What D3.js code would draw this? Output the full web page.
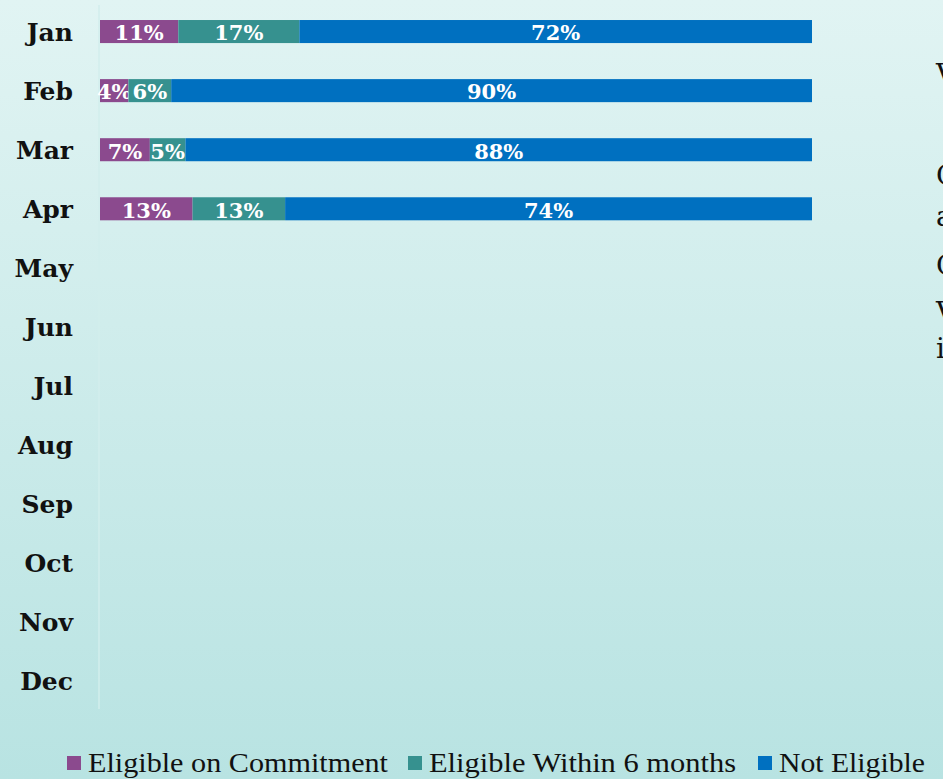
<!DOCTYPE html>
<html>
<head>
<meta charset="utf-8">
<script src="https://cdn.jsdelivr.net/npm/d3@7"></script>
<style>
  html, body { margin: 0; padding: 0; overflow: hidden; }
  svg { display: block; }
</style>
</head>
<body>
<div class="chart-area"></div>
<script>
const months = ["Jan", "Feb", "Mar", "Apr", "May", "Jun", "Jul", "Aug", "Sep", "Oct", "Nov", "Dec"];
const seriesNames = ["Eligible on Commitment", "Eligible Within 6 months", "Not Eligible"];
const eligibleOnCommitment = [11, 4, 7, 13];
const eligibleWithin6 = [17, 6, 5, 13];
const notEligible = [72, 90, 88, 74];
const colors = ["#8b4a8e", "#36918f", "#0070c0"];
// cut-off text from a box sitting off the right edge
const sideText = ["V", "C", "a", "C", "V", "i"];

const width = 943,
  height = 779,
  margin = { top: 2, right: 131, bottom: 68, left: 100 };

const svg = d3
  .select(".chart-area")
  .append("svg")
  .attr("width", width)
  .attr("height", height);

const grad = svg.append("defs").append("linearGradient")
  .attr("id", "bg").attr("x1", 0).attr("y1", 0).attr("x2", 0).attr("y2", 1);
grad.append("stop").attr("offset", "0%").attr("stop-color", "#e1f4f3");
grad.append("stop").attr("offset", "100%").attr("stop-color", "#b8e3e2");

svg.append("rect").attr("width", width).attr("height", height).attr("fill", "url(#bg)");

const x = d3.scaleLinear().domain([0, 100]).range([margin.left, width - margin.right]);
const y = d3.scaleBand().domain(months).range([margin.top, height - margin.bottom]).paddingInner(0.61).paddingOuter(0.305);

// rows -> stacked data
const rows = eligibleOnCommitment.map((v, i) => ({
  month: months[i],
  [seriesNames[0]]: v,
  [seriesNames[1]]: eligibleWithin6[i],
  [seriesNames[2]]: notEligible[i]
}));
const stacked = d3.stack().keys(seriesNames)(rows);

// axis line
svg.append("line")
  .attr("x1", x(0) - 1).attr("x2", x(0) - 1)
  .attr("y1", 5).attr("y2", 709)
  .attr("stroke", "#d2eeed").attr("stroke-width", 1.5);

const layer = svg.append("g")
  .selectAll("g")
  .data(stacked)
  .enter()
  .append("g")
  .attr("fill", (d, i) => colors[i]);

layer.selectAll("rect")
  .data((d) => d)
  .enter()
  .append("rect")
  .attr("x", (d) => x(d[0]))
  .attr("y", (d) => y(d.data.month))
  .attr("width", (d) => x(d[1]) - x(d[0]))
  .attr("height", y.bandwidth());

layer.selectAll("text")
  .data((d) => d.map((p) => ({ p: p, key: d.key })))
  .enter()
  .append("text")
  .attr("x", (d) => (x(d.p[0]) + x(d.p[1])) / 2)
  .attr("y", (d) => y(d.p.data.month) + y.bandwidth() / 2)
  .attr("dy", "0.42em")
  .attr("text-anchor", "middle")
  .attr("fill", "#ffffff")
  .attr("font-family", "'DejaVu Serif', serif")
  .attr("font-weight", "bold")
  .attr("font-size", 21)
  .text((d) => d.p.data[d.key] + "%");

// month labels
svg.append("g")
  .selectAll("text")
  .data(months)
  .enter()
  .append("text")
  .attr("x", 73)
  .attr("y", (d) => y(d) + y.bandwidth() / 2)
  .attr("dy", "0.36em")
  .attr("text-anchor", "end")
  .attr("font-family", "'DejaVu Serif', serif")
  .attr("font-weight", "bold")
  .attr("font-size", 25)
  .attr("fill", "#111")
  .text((d) => d);

// legend
const legendX = [67, 408, 758];
const legendW = [300, 307, 146];
const legend = svg.append("g")
  .selectAll("g")
  .data(seriesNames)
  .enter()
  .append("g")
  .attr("transform", (d, i) => `translate(${legendX[i]}, 772)`);

legend.append("rect")
  .attr("x", 0).attr("y", -16)
  .attr("width", 14).attr("height", 14)
  .attr("fill", (d, i) => colors[i]);

legend.append("text")
  .attr("x", 21)
  .attr("y", 0)
  .attr("font-family", "'Liberation Serif', serif")
  .attr("font-size", 28)
  .attr("fill", "#111")
  .attr("textLength", (d, i) => legendW[i])
  .attr("lengthAdjust", "spacingAndGlyphs")
  .text((d) => d);

const sideY = [84, 185, 226, 275, 322, 358];
svg.append("g")
  .selectAll("text")
  .data(sideText)
  .enter()
  .append("text")
  .attr("x", 936)
  .attr("y", (d, i) => sideY[i])
  .attr("font-family", "'DejaVu Serif', serif")
  .attr("font-size", 28)
  .attr("fill", "#111")
  .text((d) => d);
</script>
</body>
</html>
